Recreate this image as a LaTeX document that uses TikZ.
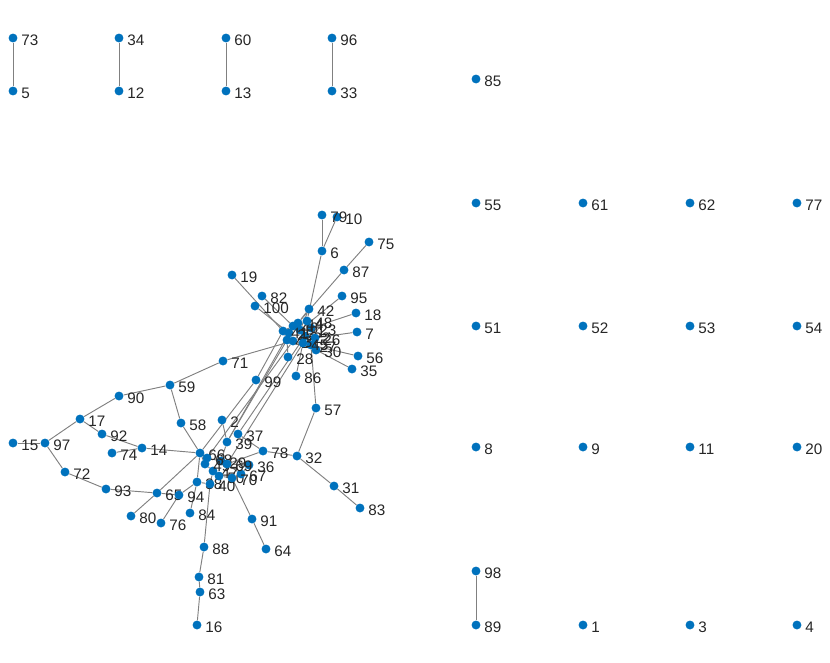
\documentclass[tikz,border=0pt]{standalone}
\usepackage{fontspec}
\setmainfont{Liberation Sans}
\usetikzlibrary{backgrounds}
\definecolor{mblue}{RGB}{0,114,189}
\definecolor{egray}{RGB}{128,128,128}
\tikzset{
  dot/.style={circle,fill=mblue,inner sep=0pt,minimum size=7.6pt},
  lbl/.style={font=\fontsize{13}{14}\selectfont,text=black!85,inner sep=0pt},
  edge/.style={draw=egray,line width=0.8pt}
}
\begin{document}
\begin{tikzpicture}[x=0.03cm,y=-0.03cm]
\useasboundingbox (0,0) rectangle (830,662);
\foreach \n/\x/\y in {1/583/625,2/222/420,3/690/625,4/797/625,5/13/91,6/322/251,7/357/332,8/476/447,9/583/447,10/337/217,11/690/447,12/119/91,13/226/91,14/142/448,15/13/443,16/197/625,17/80/419,18/356/313,19/232/275,20/797/447,
21/300/330,22/305/336,23/311/328,24/293/341,25/289/333,26/315/338,27/311/345,28/288/357,29/221/461,30/316/350,31/334/486,32/297/456,33/332/91,34/119/38,35/352/369,36/249/465,37/238/434,38/197/482,39/227/442,40/210/484,
41/283/331,42/309/309,43/287/340,44/298/323,45/303/343,46/293/326,47/213/471,48/307/321,49/205/464,50/219/476,51/476/326,52/583/326,53/690/326,54/797/326,55/476/203,56/358/356,57/316/408,58/181/423,59/170/385,60/226/38,
61/583/203,62/690/203,63/200/592,64/266/549,65/157/493,66/200/453,67/241/474,68/207/458,69/227/464,70/232/478,71/223/361,72/65/472,73/13/38,74/112/453,75/369/242,76/161/523,77/797/203,78/263/451,79/322/215,80/131/516,
81/199/577,82/262/296,83/360/508,84/190/513,85/476/79,86/296/376,87/344/270,88/204/547,89/476/625,90/119/396,91/252/519,92/102/434,93/106/489,94/179/495,95/342/296,96/332/38,97/45/443,98/476/571,99/256/380,100/255/306}
{
  \node[dot] (n\n) at (\x,\y) {};
  \node[lbl,anchor=west] (l\n) at ([xshift=7pt,yshift=-2.2pt]n\n.center) {\n};
}
\begin{scope}[on background layer]
\foreach \a/\b in {73/5,34/12,60/13,96/33,98/89,
79/6,10/6,6/48,75/87,87/44,19/41,100/25,82/46,95/21,18/23,7/26,56/27,35/45,71/59,71/24,28/43,86/45,99/41,99/66,
57/27,57/32,32/78,32/31,31/83,37/78,59/90,59/58,90/17,17/97,17/92,92/14,74/14,15/97,97/72,72/93,93/65,65/94,65/80,76/94,
94/38,58/66,14/66,2/39,39/43,37/22,36/69,78/69,84/38,88/40,81/88,81/63,63/16,91/70,91/64,42/21,42/44,
66/68,66/49,68/29,29/69,69/36,49/47,47/50,50/70,70/67,67/36,38/40,40/47,38/66,29/39,69/67,65/66,24/68,45/69,39/25,
21/22,21/23,21/44,22/26,22/27,23/48,24/25,24/43,25/41,25/46,26/45,27/45,41/43,44/46,44/48,45/24,46/21,48/26,22/24,23/26,27/24,41/46,30/27,30/26}
  \draw[edge] (n\a) -- (n\b);
\end{scope}
\end{tikzpicture}
\end{document}
